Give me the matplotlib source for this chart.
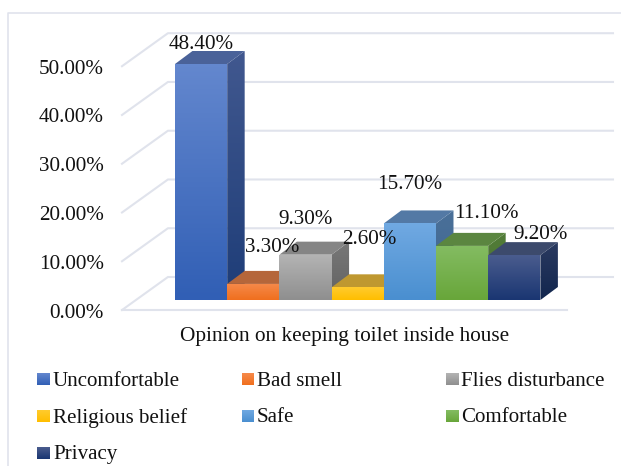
import numpy as np
import matplotlib
matplotlib.use("Agg")
import matplotlib.pyplot as plt
from matplotlib.colors import LinearSegmentedColormap
from matplotlib.patches import Polygon

plt.rcParams["font.family"] = ["Liberation Serif", "DejaVu Serif"]

categories = ["Uncomfortable", "Bad smell", "Flies disturbance", "Religious belief",
              "Safe", "Comfortable", "Privacy"]
values = [48.4, 3.3, 9.3, 2.6, 15.7, 11.1, 9.2]
ticks = [0, 10, 20, 30, 40, 50]
axis_title = "Opinion on keeping toilet inside house"

# (top of gradient, bottom of gradient) for front and side, flat colour for the lid
front_cols = [("#6387CE", "#315FB5"), ("#F68A4B", "#F06F1E"), ("#B4B4B4", "#8F8F8F"),
              ("#FFCB2E", "#FFBE00"), ("#70A9E2", "#4A8FD0"), ("#84BC62", "#68A63A"),
              ("#4A5C8E", "#1A3672")]
side_cols = [("#41588F", "#1E3D78"), ("#A85A30", "#A85A30"), ("#787878", "#626262"),
             ("#B08A28", "#B08A28"), ("#4A7099", "#3F6690"), ("#527C38", "#4A7430"),
             ("#2A3A60", "#12264E")]
top_cols = ["#4A6299", "#B5663A", "#858585", "#BF9830", "#5379A5", "#5B8640", "#3C4A6C"]

# label offsets from the front top centre of each bar, in pixels
label_dx = [0, 19, 0, 12, 0, 24, 26]
label_dy = [20, 36, 35, 48, 39, 32, 21]

grid_col = "#E0E3EC"
txt_col = "#111111"
fs = 15.2

fig = plt.figure(figsize=(6.21, 4.66), dpi=100)
ax = fig.add_axes([0, 0, 1, 1])
ax.set_xlim(-3.352, 8.544)
ax.set_ylim(-34.04, 61.53)
ax.axis("off")

# overlay in pixels for the frame, axis title and legend
ov = fig.add_axes([0, 0, 1, 1])
ov.set_xlim(0, 621)
ov.set_ylim(466, 0)
ov.axis("off")
ov.patch.set_alpha(0)

bar_dx = 0.335
bar_dy = 2.67
floor_dx = 0.88
floor_dy = 6.77
floor_y = -2.05
floor_l = -1.015
floor_r = 7.51


def grad_poly(a, pts, c1, c2, z):
    pts = np.array(pts)
    cmap = LinearSegmentedColormap.from_list("g", [c1, c2])
    im = a.imshow(np.linspace(0, 1, 64).reshape(-1, 1), cmap=cmap, aspect="auto", zorder=z,
                  extent=[pts[:, 0].min(), pts[:, 0].max(), pts[:, 1].min(), pts[:, 1].max()],
                  origin="upper" if a is ax else "lower", interpolation="bilinear")
    clip = Polygon(pts, closed=True, transform=a.transData, fc="none", ec="none")
    a.add_patch(clip)
    im.set_clip_path(clip)


# walls and floor
for t in ticks:
    y0 = floor_y + t
    ax.plot([floor_l, floor_l + floor_dx, floor_r + floor_dx],
            [y0, y0 + floor_dy, y0 + floor_dy], color=grid_col, lw=1.5, zorder=1)
    ax.annotate("%.2f%%" % t, (floor_l, y0), xytext=(-18, -3), textcoords="offset pixels",
                ha="right", va="center", fontsize=fs, color=txt_col)
ax.plot([floor_l, floor_r], [floor_y, floor_y], color=grid_col, lw=1.5, zorder=1)

# bars, left to right so each one covers the side of the previous
for i, v in enumerate(values):
    z = 2 + i
    grad_poly(ax, [(i + 1, 0), (i + 1 + bar_dx, bar_dy), (i + 1 + bar_dx, v + bar_dy), (i + 1, v)],
              side_cols[i][0], side_cols[i][1], z)
    ax.add_patch(Polygon([(i, v), (i + bar_dx, v + bar_dy), (i + 1 + bar_dx, v + bar_dy), (i + 1, v)],
                         closed=True, fc=top_cols[i], ec="none", zorder=z))
    grad_poly(ax, [(i, 0), (i + 1, 0), (i + 1, v), (i, v)], front_cols[i][0], front_cols[i][1], z)

ax.set_xlim(-3.352, 8.544)
ax.set_ylim(-34.04, 61.53)

for i, v in enumerate(values):
    ax.annotate("%.2f%%" % v, (i + 0.5, v), xytext=(label_dx[i], label_dy[i]),
                textcoords="offset pixels", ha="center", va="center",
                fontsize=fs, color=txt_col, zorder=20)

# frame
ov.plot([8, 8, 621], [466, 13, 13], color=grid_col, lw=1.2)

ov.text(345, 336.5, axis_title, ha="center", va="center", fontsize=15.3, color=txt_col)

# legend
swatch_x = [37, 241.5, 446]
text_x = [53, 257, 461]
row_y = [379, 416, 453]
for i, name in enumerate(categories):
    y = row_y[i // 3]
    x = swatch_x[i % 3]
    grad_poly(ov, [(x, y - 6), (x + 12.5, y - 6), (x + 12.5, y + 6), (x, y + 6)],
              front_cols[i][0], front_cols[i][1], 3)
    ov.text(text_x[i % 3], y + 2, name, ha="left", va="center", fontsize=15.1, color=txt_col)

ov.set_xlim(0, 621)
ov.set_ylim(466, 0)

fig.savefig("out.png", dpi=100, facecolor="white")
